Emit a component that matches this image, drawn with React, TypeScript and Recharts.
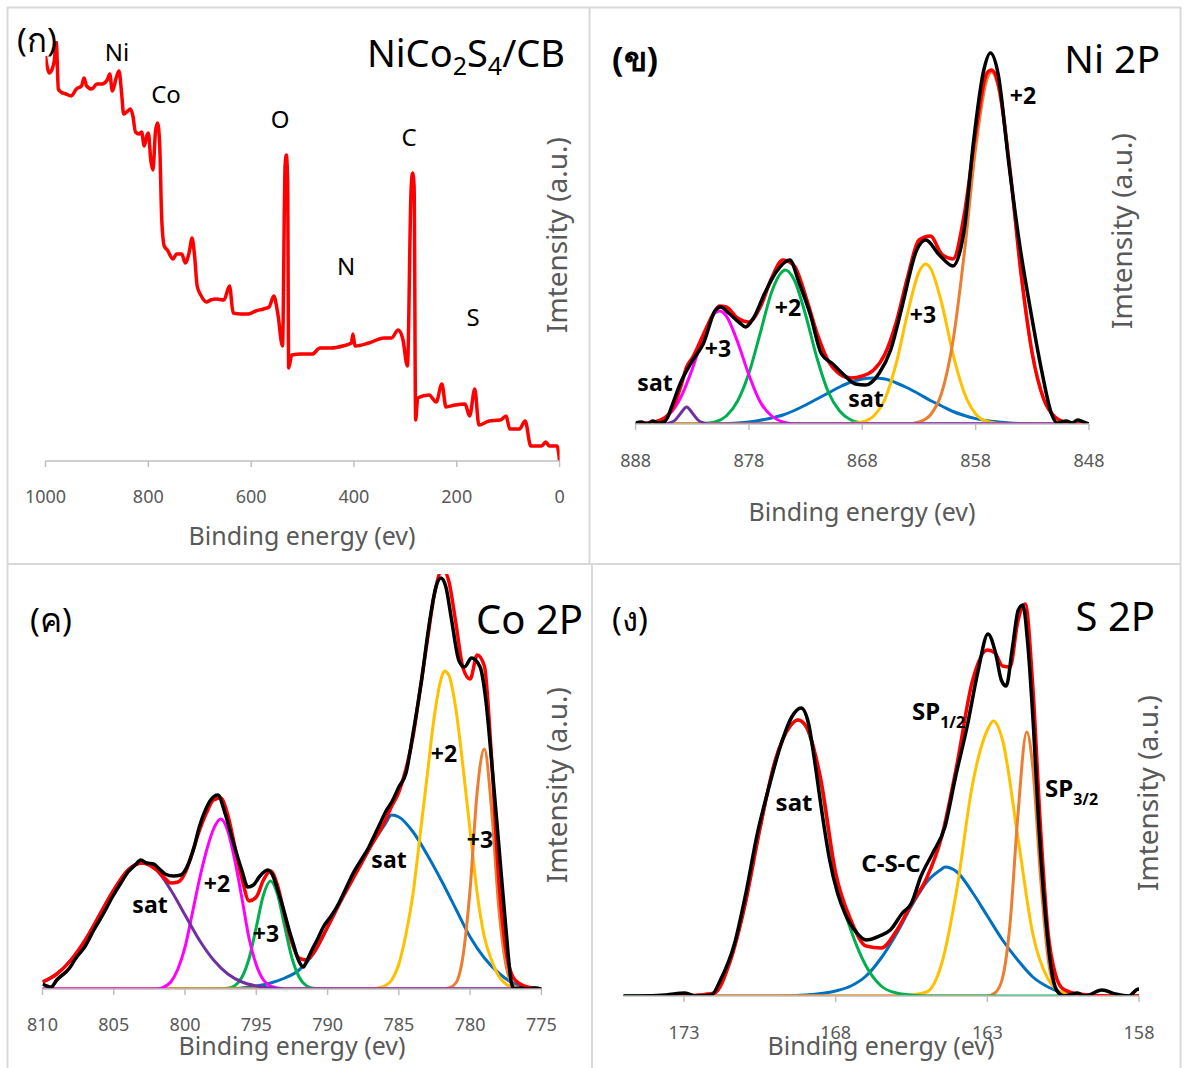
import React from "react";
import { LineChart, Line, XAxis, YAxis } from "recharts";

type Pt = [number, number]; // [binding energy (eV), intensity (a.u.)]

// ---- (ก) survey spectrum ----
const surveyTicks = [0, 200, 400, 600, 800, 1000];
const survey: Pt[] = [
  [1000, 405], [997, 395], [993, 388], [988, 391], [983, 400], [979, 419], [975, 372], [970, 369],
  [960, 367], [950, 365], [940, 372], [930, 375], [925, 383], [920, 375], [910, 372], [900, 377],
  [890, 377], [880, 381], [875, 387], [870, 370], [862, 384], [857, 390], [852, 368], [848, 347],
  [840, 350], [835, 352], [830, 345], [825, 329], [818, 327], [813, 329], [808, 315], [803, 325],
  [800, 328], [795, 300], [791, 291], [786, 330], [782, 338], [778, 318], [774, 243], [769, 215],
  [763, 211], [752, 202], [745, 207], [735, 207], [728, 198], [720, 210], [715, 223], [710, 205],
  [705, 175], [697, 165], [687, 159], [679, 161], [668, 162], [653, 161], [642, 175], [635, 148],
  [620, 147], [605, 147], [591, 150], [576, 152], [565, 154], [556, 165], [548, 147], [539, 115],
  [534, 295], [531.5, 306], [529, 280], [527, 93], [521, 106], [503, 107], [481, 107], [466, 113],
  [444, 113], [422, 115], [405, 118], [402, 127], [398, 115], [371, 118], [342, 123], [327, 123],
  [314, 131], [305, 122], [296, 95], [289, 270], [286, 288], [283, 275], [280, 41], [276, 63],
  [254, 66], [240, 59], [229, 77], [221, 54], [203, 56], [184, 57], [175, 45], [165, 72],
  [157, 36], [137, 40], [115, 41], [104, 45], [97, 32], [78, 32], [67, 40], [56, 15],
  [35, 15], [27, 19], [20, 15], [5, 15], [0, 0],
];

// ---- (ข) Ni 2P ----
const niTicks = [848, 858, 868, 878, 888];
const niRaw: Pt[] = [
  [888, 1], [887.5, 2], [887, 0], [886.5, 3], [886, 1], [885.5, 2], [885.2, 6], [884.8, 18],
  [884, 42], [883, 63], [882, 81], [881, 113], [880.5, 117], [879.8, 111], [878.8, 101], [878.3, 97],
  [877.6, 106], [876.6, 131], [875.6, 152], [874.4, 164], [873.6, 142], [872.6, 110], [871.6, 70],
  [870.6, 60], [869.6, 49], [868.6, 40], [867.7, 39], [866.5, 51], [865.5, 74], [864.5, 117],
  [863.2, 174], [862.4, 184], [861.2, 169], [860, 158], [859, 195], [858.2, 281], [857.3, 353],
  [856.7, 371], [856, 349], [855.1, 263], [854.1, 178], [853.1, 110], [852.1, 49], [851.3, 10],
  [850.8, 1], [850, 3], [849.5, 1], [849, 4], [848.5, 2], [848, 0],
];
const niFit: Pt[] = [
  [888, 0], [887, 1], [886, 3], [885, 11], [884.5, 22], [884, 38], [883.5, 57], [883, 66], [882, 90],
  [881, 113], [880.6, 118], [880, 117], [879, 106], [878, 102], [877, 117], [876, 146], [875, 164],
  [874, 158], [873, 128], [872, 91], [871, 63], [870, 50], [869, 46], [868, 48], [867, 54], [866, 70],
  [865, 102], [864, 147], [863, 184], [862, 188], [861, 170], [860, 165], [859, 210], [858, 291],
  [857, 351], [856.6, 354], [856, 340], [855, 257], [854, 151], [853, 70], [852, 25], [851, 7],
  [850, 1.5], [849, 0], [848, 0],
];
const niSatSmall: Pt[] = [
  [888, 0], [885.5, 0], [885, 1], [884.5, 4], [884, 11], [883.5, 17], [883, 11], [882.5, 4], [882, 1],
  [881.5, 0], [848, 0],
];
const niP3a: Pt[] = [
  [888, 0], [887, 1], [886, 3], [885, 10], [884, 27], [883, 55], [882, 88], [881, 111], [880.6, 113],
  [880, 108], [879, 82], [878, 49], [877, 22], [876, 8], [875, 2], [874, 0], [848, 0],
];
const niP2a: Pt[] = [
  [888, 0], [883, 0], [882, 0.5], [881, 2], [880, 8], [879, 23], [878, 51], [877, 91], [876, 132],
  [875, 153], [874.8, 154], [874, 144], [873, 109], [872, 66], [871, 32], [870, 13], [869, 4],
  [868, 1], [867, 0], [848, 0],
];
const niSat: Pt[] = [
  [888, 0], [882, 0], [880, 0.5], [879, 1], [878, 2], [877, 3.7], [876, 6], [875, 9], [874, 13.5],
  [873, 19], [872, 25], [871, 31], [870, 37], [869, 42], [868, 45], [867, 46], [866, 45], [865, 41],
  [864, 36], [863, 30], [862, 23.5], [861, 18], [860, 12.5], [859, 8.5], [858, 5.4], [857, 3.3],
  [856, 2], [855, 1], [854, 0.5], [852, 0], [848, 0],
];
const niP3b: Pt[] = [
  [888, 0], [870, 0], [869, 0.5], [868, 2], [867, 8], [866, 25], [865, 61], [864, 111], [863, 152],
  [862.4, 160], [862, 156], [861, 121], [860, 70], [859, 31], [858, 10], [857, 2.5], [856, 0.5],
  [855, 0], [848, 0],
];
const niP2b: Pt[] = [
  [888, 0], [864, 0], [863, 2], [862, 9], [861, 31], [860, 83], [859, 171], [858, 276], [857, 345],
  [856.6, 352], [856, 337], [855, 256], [854, 151], [853, 70], [852, 25], [851, 7], [850, 1.5],
  [849, 0], [848, 0],
];

// ---- (ค) Co 2P ----
const coTicks = [775, 780, 785, 790, 795, 800, 805, 810];
const coRaw: Pt[] = [
  [810, 5], [809.4, 2], [809, 9], [808.1, 21], [807.7, 30], [807, 43], [806.4, 59], [805.7, 76],
  [805.1, 92], [804.5, 106], [804, 117], [803.5, 124], [803.1, 129], [802.7, 126], [802.2, 125],
  [801.8, 120], [801.4, 115], [800.8, 113], [800.3, 114], [799.8, 124], [799.4, 140], [799, 162],
  [798.6, 178], [798.2, 189], [797.7, 194], [797.2, 176], [796.8, 156], [796.4, 136], [796, 118],
  [795.6, 102], [795.2, 104], [794.8, 112], [794.2, 119], [793.8, 112], [793.5, 99], [793.1, 80],
  [792.7, 59], [792.4, 45], [792.1, 31], [791.7, 22], [791.4, 30], [791.1, 39], [790.7, 50],
  [790.3, 62], [789.7, 74], [789.2, 86], [788.7, 101], [788.2, 116], [787.6, 130], [787.1, 142],
  [786.7, 154], [786.3, 166], [785.9, 178], [785.5, 187], [785, 202], [784.5, 216], [784, 256],
  [783.4, 309], [782.9, 362], [782.4, 402], [782.05, 411], [781.7, 402], [781.3, 369], [780.8, 329],
  [780.4, 322], [779.9, 331], [779.3, 322], [778.9, 289], [778.5, 229], [778, 146], [777.5, 62],
  [777.1, 6], [776.9, 0], [776.5, 1], [776, 0], [775.5, 1], [775, 0],
];
const coFit: Pt[] = [
  [810, 7], [809, 15], [808, 29], [807, 49], [806, 74], [805, 99], [804, 119], [803, 126], [802, 119],
  [801.5, 112], [801, 106], [800.5, 107], [800, 116], [799.5, 136], [799, 158], [798.5, 176],
  [798, 189], [797.5, 191], [797, 174], [796.5, 142], [796, 110], [795.5, 88], [795, 92],
  [794.5, 109], [794, 118], [793.5, 103], [793, 73], [792.5, 46], [792, 31], [791.5, 29], [791, 36],
  [790, 62], [789, 90], [788, 116], [787, 142], [786, 167], [785.5, 183], [785, 197], [784.5, 220],
  [784, 253], [783.5, 301], [783, 349], [782.5, 395], [782, 418], [781.8, 418], [781.5, 408],
  [781, 366], [780.5, 321], [780, 310], [779.5, 334], [779, 323], [778.5, 232], [778, 112],
  [777.5, 40], [777, 12], [776.5, 5], [776, 2], [775, 0],
];
const coSatA: Pt[] = [
  [810, 7], [809, 15], [808, 29], [807, 49], [806, 74], [805, 99], [804, 119], [803, 126], [802, 119],
  [801, 99], [800, 74], [799, 49], [798, 29], [797, 15], [796, 7], [795, 3], [794, 1], [793, 0],
  [775, 0],
];
const coP2a: Pt[] = [
  [810, 0], [802, 0], [801.5, 2], [801, 7], [800.5, 20], [800, 42], [799.5, 75], [799, 109],
  [798.5, 138], [798, 160], [797.5, 170], [797, 158], [796.5, 128], [796, 90], [795.5, 50],
  [795, 24], [794.5, 9], [794, 3], [793.5, 1], [793, 0], [775, 0],
];
const coP3a: Pt[] = [
  [810, 0], [798, 0], [797, 0.7], [796.5, 3.4], [796, 12], [795.5, 31], [795, 62], [794.5, 94],
  [794, 108], [793.5, 94], [793, 62], [792.5, 31], [792, 12], [791.5, 3.4], [791, 0.7], [790, 0],
  [775, 0],
];
const coSatB: Pt[] = [
  [810, 0], [797, 0], [796, 1], [795, 3], [794, 6], [793, 11], [792, 19], [791, 35], [790, 62],
  [789, 90], [788, 116], [787, 142], [786, 164], [785.5, 174], [785, 172], [784, 157], [783, 134],
  [782, 108], [781, 80], [780, 52], [779, 31], [778, 16], [777, 6], [776, 2], [775, 0.5],
];
const coP2b: Pt[] = [
  [810, 0], [787, 0], [786.5, 1], [786, 3], [785.5, 9], [785, 25], [784.5, 55], [784, 96],
  [783.5, 155], [783, 215], [782.5, 274], [782, 312], [781.8, 318], [781.5, 314], [781, 280],
  [780.5, 222], [780, 158], [779.5, 95], [779, 52], [778.5, 29], [778, 13], [777.5, 5], [777, 1.5],
  [776.5, 0], [775, 0],
];
const coP3b: Pt[] = [
  [810, 0], [782, 0], [781.5, 1], [781, 6], [780.5, 33], [780, 100], [779.5, 198], [779, 240],
  [778.5, 180], [778, 83], [777.5, 25], [777, 4], [776.5, 0.5], [776, 0], [775, 0],
];

// ---- (ง) S 2P ----
const sTicks = [158, 163, 168, 173];
const sRaw: Pt[] = [
  [175, 0], [174.5, 0], [173.6, 1], [172.97, 3], [172.6, 0], [172.1, 1], [171.8, 16], [171.33, 53],
  [170.96, 103], [170.58, 163], [170.2, 209], [169.83, 249], [169.45, 279], [169.14, 288],
  [168.9, 273], [168.7, 236], [168.45, 183], [168.2, 136], [167.94, 103], [167.7, 83], [167.3, 63],
  [167, 56], [166.56, 60], [166.2, 66], [165.8, 83], [165.5, 93], [165.2, 119], [164.8, 143],
  [164.4, 169], [164.05, 219], [163.67, 269], [163.3, 326], [162.98, 362], [162.73, 343],
  [162.54, 316], [162.38, 310], [162.17, 349], [161.98, 386], [161.83, 391], [161.67, 353],
  [161.48, 269], [161.3, 169], [161.1, 86], [160.9, 29], [160.72, 6], [160.47, 0], [160.03, 3],
  [159.78, 0], [159.22, 6], [158.78, 2], [158.34, 0], [158.02, 7], [158, 5],
];
const sFit: Pt[] = [
  [174, 0], [173, 0], [172.5, 1], [172, 3], [171.5, 33], [171, 90], [170.5, 167], [170, 235],
  [169.5, 270], [169.25, 276], [169, 271], [168.5, 218], [168, 123], [167.5, 76], [167, 50],
  [166.5, 48], [166, 65], [165.5, 92], [165, 118], [164.5, 160], [164, 232], [163.5, 314],
  [163, 346], [162.75, 343], [162.5, 330], [162.25, 329], [162, 374], [161.75, 392], [161.5, 309],
  [161.25, 170], [161, 64], [160.75, 21], [160.5, 7], [160, 2], [159, 0], [158, 0],
];
const sSat: Pt[] = [
  [175, 0], [173, 0], [172.5, 1], [172, 3], [171.5, 33], [171, 90], [170.5, 167], [170, 235],
  [169.5, 270], [169.25, 276], [169, 270], [168.5, 215], [168, 118], [167.5, 66], [167, 30],
  [166.5, 10], [166, 3], [165.5, 1], [165, 0], [158, 0],
];
const sCSC: Pt[] = [
  [175, 0], [170, 0], [169, 1], [168, 5], [167.5, 10], [167, 20], [166.5, 38], [166, 62], [165.5, 90],
  [165, 114], [164.5, 127], [164.4, 129], [164, 124], [163.5, 104], [163, 80], [162.5, 56],
  [162, 36], [161.5, 19], [161, 9], [160.5, 3], [160, 1], [159, 0], [158, 0],
];
const sSP12: Pt[] = [
  [175, 0], [166, 0], [165.5, 1], [165, 4], [164.5, 33], [164, 108], [163.5, 210], [163, 266],
  [162.8, 275], [162.5, 256], [162, 160], [161.5, 62], [161, 17], [160.5, 3], [160, 0.5],
  [159.5, 0], [158, 0],
];
const sSP32: Pt[] = [
  [175, 0], [163, 0], [162.75, 3], [162.5, 18], [162.25, 73], [162, 178], [161.7, 264],
  [161.5, 228], [161.25, 120], [161, 38], [160.75, 7], [160.5, 1], [160.25, 0], [158, 0],
];

const FONT = "'Noto Sans', 'DejaVu Sans', sans-serif";
const GRID = "#d9d9d9";
const AXIS = "#bfbfbf";
const GREY = "#595959";

const C = {
  raw: "#000000",
  fit: "#ff0000",
  purple: "#7030a0",
  magenta: "#ff00ff",
  green: "#00b050",
  blue: "#0070c0",
  yellow: "#ffc000",
  orange: "#ed7d31",
};

type Series = { pts: Pt[]; color: string; w?: number };

interface SpectrumProps {
  left: number;
  top: number;
  width: number;
  height: number;
  margin: { top: number; right: number; bottom: number; left: number };
  xDomain: [number, number];
  xTicks: number[];
  yMax: number;
  tickMargin: number;
  series: Series[];
}

const Spectrum: React.FC<SpectrumProps> = ({ left, top, width, height, margin, xDomain, xTicks, yMax, tickMargin, series }) => (
  <div style={{ position: "absolute", left, top }}>
    <LineChart width={width} height={height} margin={margin}>
      <XAxis
        type="number"
        dataKey="e"
        domain={xDomain}
        reversed
        ticks={xTicks}
        interval={0}
        allowDataOverflow
        height={30}
        tickSize={6}
        tickMargin={tickMargin}
        axisLine={{ stroke: AXIS, strokeWidth: 1.5 }}
        tickLine={{ stroke: AXIS, strokeWidth: 1.5 }}
        tick={{ fill: GREY, fontSize: 18, fontFamily: FONT }}
      />
      <YAxis type="number" hide domain={[0, yMax]} allowDataOverflow />
      {series.map((s, i) => (
        <Line
          key={i}
          data={s.pts.map(([e, v]) => ({ e, v }))}
          dataKey="v"
          type="monotone"
          stroke={s.color}
          strokeWidth={s.w ?? 3}
          dot={false}
          activeDot={false}
          isAnimationActive={false}
        />
      ))}
    </LineChart>
  </div>
);

const yTitle = (x: number, y: number) => (
  <text x={x} y={y} transform={`rotate(-90 ${x} ${y})`} textAnchor="middle" dominantBaseline="central" fontSize={28} fill={GREY}>
    Imtensity (a.u.)
  </text>
);
const xTitle = (x: number, y: number) => (
  <text x={x} y={y} textAnchor="middle" dominantBaseline="central" fontSize={25} fill={GREY}>
    Binding energy (ev)
  </text>
);

export default function App() {
  return (
    <div style={{ position: "absolute", left: 0, top: 0, width: 1186, height: 1068, overflow: "hidden", background: "#fff", fontFamily: FONT }}>
      <Spectrum
        left={7} top={7} width={582} height={557}
        margin={{ top: 34, right: 29.4, bottom: 73, left: 38.5 }}
        xDomain={[0, 1000]} xTicks={surveyTicks} yMax={420} tickMargin={23}
        series={[{ pts: survey, color: C.fit, w: 3.5 }]}
      />
      <Spectrum
        left={589} top={7} width={592} height={557}
        margin={{ top: 37, right: 92, bottom: 110, left: 46.6 }}
        xDomain={[848, 888]} xTicks={niTicks} yMax={380} tickMargin={24}
        series={[
          { pts: niSat, color: C.blue },
          { pts: niP2a, color: C.green },
          { pts: niP3b, color: C.yellow },
          { pts: niP2b, color: C.orange },
          { pts: niP3a, color: C.magenta },
          { pts: niSatSmall, color: C.purple },
          { pts: niFit, color: C.fit, w: 3.5 },
          { pts: niRaw, color: C.raw, w: 3.5 },
        ]}
      />
      <Spectrum
        left={7} top={564} width={585} height={504}
        margin={{ top: 10, right: 50.6, bottom: 49, left: 35.5 }}
        xDomain={[775, 810]} xTicks={coTicks} yMax={415} tickMargin={23}
        series={[
          { pts: coSatB, color: C.blue },
          { pts: coP3a, color: C.green },
          { pts: coP2b, color: C.yellow },
          { pts: coP3b, color: C.orange },
          { pts: coP2a, color: C.magenta },
          { pts: coSatA, color: C.purple },
          { pts: coFit, color: C.fit, w: 3.5 },
          { pts: coRaw, color: C.raw, w: 3.5 },
        ]}
      />
      <Spectrum
        left={592} top={564} width={589} height={504}
        margin={{ top: 32, right: 42, bottom: 42, left: 31.4 }}
        xDomain={[158, 175]} xTicks={sTicks} yMax={400} tickMargin={24}
        series={[
          { pts: sCSC, color: C.blue },
          { pts: sSP12, color: C.yellow },
          { pts: sSP32, color: C.orange },
          { pts: sSat, color: C.green },
          { pts: sFit, color: C.fit, w: 3.5 },
          { pts: sRaw, color: C.raw, w: 3.5 },
        ]}
      />

      <svg width={1186} height={1068} style={{ position: "absolute", left: 0, top: 0, pointerEvents: "none" }} fontFamily={FONT}>
        {/* panel frames */}
        <g stroke={GRID} strokeWidth={2}>
          <line x1={7} y1={7.5} x2={1181} y2={7.5} />
          <line x1={7.5} y1={7} x2={7.5} y2={1068} />
          <line x1={1180.5} y1={7} x2={1180.5} y2={1068} />
          <line x1={7} y1={564} x2={1181} y2={564} />
          <line x1={589.5} y1={7} x2={589.5} y2={564} />
          <line x1={592} y1={564} x2={592} y2={1068} />
        </g>

        {/* (ก) survey */}
        <text x={17} y={52} fontSize={33}>(ก)</text>
        <text x={565} y={67} fontSize={38} textAnchor="end">
          NiCo<tspan fontSize={25} dy={8}>2</tspan><tspan dy={-8}>S</tspan><tspan fontSize={25} dy={8}>4</tspan><tspan dy={-8}>/CB</tspan>
        </text>
        <g fontSize={24} textAnchor="middle">
          <text x={117} y={61}>Ni</text>
          <text x={166} y={103}>Co</text>
          <text x={280} y={128}>O</text>
          <text x={409} y={146}>C</text>
          <text x={346} y={275}>N</text>
          <text x={473} y={326}>S</text>
        </g>
        {yTitle(556, 235)}
        {xTitle(302, 535)}

        {/* (ข) Ni 2P */}
        <text x={612} y={71} fontSize={34} fontWeight="bold">(ข)</text>
        <text x={1160} y={73} fontSize={39} textAnchor="end">Ni 2P</text>
        <g fontSize={23} fontWeight="bold" textAnchor="middle">
          <text x={1023} y={104}>+2</text>
          <text x={718} y={357}>+3</text>
          <text x={788} y={316}>+2</text>
          <text x={655} y={391}>sat</text>
          <text x={866} y={407}>sat</text>
          <text x={923} y={323}>+3</text>
        </g>
        {yTitle(1121, 231)}
        {xTitle(862, 511)}

        {/* (ค) Co 2P */}
        <text x={30} y={632} fontSize={33}>(ค)</text>
        <text x={583} y={634} fontSize={40} textAnchor="end">Co 2P</text>
        <g fontSize={23} fontWeight="bold" textAnchor="middle">
          <text x={150} y={913}>sat</text>
          <text x={217} y={892}>+2</text>
          <text x={266} y={942}>+3</text>
          <text x={389} y={868}>sat</text>
          <text x={444} y={762}>+2</text>
          <text x={480} y={848}>+3</text>
        </g>
        {yTitle(556, 785)}
        {xTitle(292, 1045)}

        {/* (ง) S 2P */}
        <text x={612} y={631} fontSize={33}>(ง)</text>
        <text x={1155} y={631} fontSize={40} textAnchor="end">S 2P</text>
        <g fontSize={24} fontWeight="bold">
          <text x={794} y={811} textAnchor="middle">sat</text>
          <text x={891} y={872} textAnchor="middle">C-S-C</text>
          <text x={912} y={720}>
            SP<tspan fontSize={16} dy={8}>1/2</tspan>
          </text>
          <text x={1045} y={797}>
            SP<tspan fontSize={16} dy={8}>3/2</tspan>
          </text>
        </g>
        {yTitle(1147, 793)}
        {xTitle(881, 1045)}
      </svg>
    </div>
  );
}
